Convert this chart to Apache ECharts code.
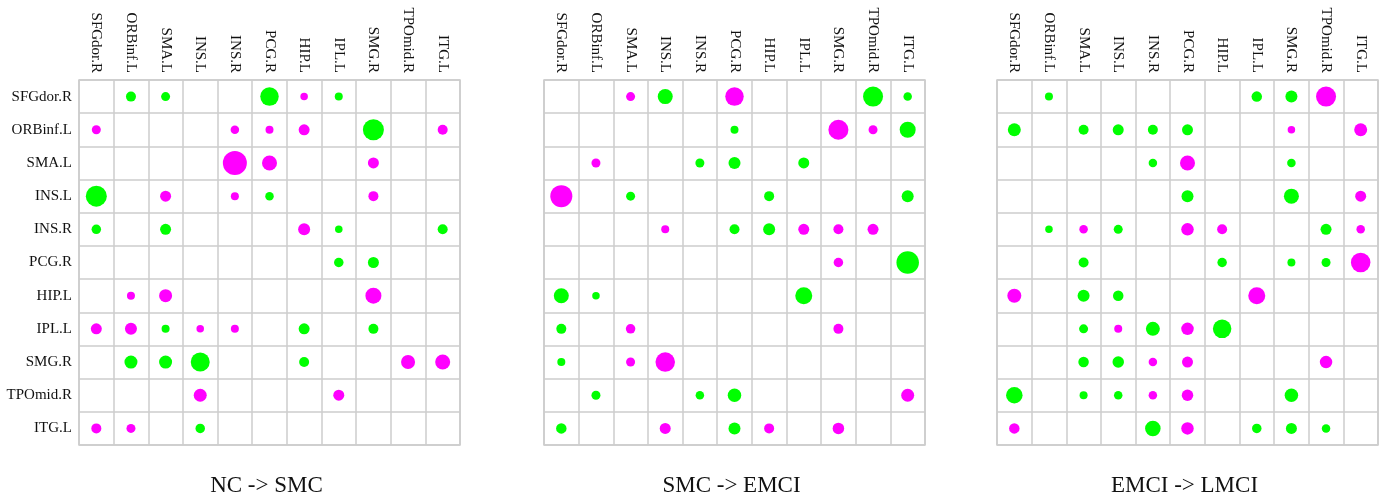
<!DOCTYPE html>
<html>
<head>
<meta charset="utf-8">
<script src="https://cdn.jsdelivr.net/npm/echarts@6/dist/echarts.min.js"></script>
<style>
html,body{margin:0;padding:0;background:#fff;}
#chart{width:1382px;height:496px;}
</style>
</head>
<body>
<div id="chart"></div>
<script>
// Regions (same order for rows and columns)
const regions = ['SFGdor.R','ORBinf.L','SMA.L','INS.L','INS.R','PCG.R','HIP.L','IPL.L','SMG.R','TPOmid.R','ITG.L'];
const panelTitles = ['NC -> SMC','SMC -> EMCI','EMCI -> LMCI'];

// Effect magnitudes (positive = green, negative = magenta, 0 = none); rows = source, cols = target
const ncSmc = [
  [0,10,9,0,0,18.5,-7.5,8,0,0,0],
  [-9,0,0,0,-8.5,-8,-11,0,21,0,-10],
  [0,0,0,0,-24,-15,0,0,-11,0,0],
  [21,0,-11,0,-8,8.5,0,0,-10,0,0],
  [9.5,0,11,0,0,0,-12,7.5,0,0,10],
  [0,0,0,0,0,0,0,9.5,11,0,0],
  [0,-8,-13,0,0,0,0,0,-16,0,0],
  [-11,-12,8,-7.5,-8,0,11,0,10,0,0],
  [0,13,13,19,0,0,10,0,0,-14,-15],
  [0,0,0,-13,0,0,0,-11,0,0,0],
  [-10,-9,0,9.5,0,0,0,0,0,0,0]
];
const smcEmci = [
  [0,0,-9,15,0,-18.5,0,0,0,20,8.5],
  [0,0,0,0,0,8,0,0,-20,-9,16],
  [0,-9,0,0,9,12,0,11,0,0,0],
  [-22,0,9,0,0,0,10,0,0,0,12],
  [0,0,0,-8,0,10,12,-11,-10,-11,0],
  [0,0,0,0,0,0,0,0,-9.5,0,22.5],
  [15,7.5,0,0,0,0,0,17,0,0,0],
  [10,0,-9.5,0,0,0,0,0,-10,0,0],
  [8,0,-9,-19.5,0,0,0,0,0,0,0],
  [0,9,0,0,8.5,13.5,0,0,0,0,-13],
  [10.5,0,0,-11,0,12,-10,0,-11.5,0,0]
];
const emciLmci = [
  [0,8,0,0,0,0,0,10.5,12,-20,0],
  [13,0,10,11,10,11,0,0,-7.5,0,-13],
  [0,0,0,0,8.5,-15,0,0,8.5,0,0],
  [0,0,0,0,0,12,0,0,15,0,-11],
  [0,7.5,-8.5,9,0,-12.5,-10,0,0,11,-8.5],
  [0,0,10,0,0,0,9.5,0,8,9,-19.5],
  [-14,0,12,10.5,0,0,0,-17,0,0,0],
  [0,0,9,-8,14,-12.5,18.5,0,0,0,0],
  [0,0,10.5,11.5,-8.5,-11,0,0,0,-12.5,0],
  [16.5,0,8,8.5,-8.5,-11.5,0,0,13.5,0,0],
  [-10.5,0,0,0,15.5,-12.5,0,9.5,11,8.5,0]
];
const panels = [ncSmc, smcEmci, emciLmci];

const POS = '#00ff00', NEG = '#ff00ff';
const FONT = '"Liberation Serif", "Times New Roman", serif';
const gridLefts = [79, 544, 997];
const GW = 381, GH = 365, GT = 80;

const grids = [], xAxes = [], yAxes = [], series = [], titles = [];
panels.forEach((mat, p) => {
  grids.push({left: gridLefts[p], top: GT, width: GW, height: GH, show: true,
    borderColor: '#cccccc', borderWidth: 1.5, backgroundColor: 'transparent', containLabel: false});
  xAxes.push({type: 'category', gridIndex: p, data: regions, position: 'top',
    axisLine: {show: false}, axisTick: {show: false},
    axisLabel: {rotate: 90, interval: 0, margin: 7, color: '#111', fontFamily: FONT, fontSize: 15},
    splitLine: {show: true, interval: 0, lineStyle: {color: '#cccccc', width: 1.5}}});
  yAxes.push({type: 'category', gridIndex: p, data: regions, inverse: true,
    axisLine: {show: false}, axisTick: {show: false},
    axisLabel: {show: p === 0, interval: 0, margin: 7, color: '#111', fontFamily: FONT, fontSize: 15},
    splitLine: {show: true, interval: 0, lineStyle: {color: '#cccccc', width: 1.5}}});
  const pts = [];
  mat.forEach((row, r) => row.forEach((v, c) => { if (v !== 0) pts.push([c, r, v]); }));
  series.push({type: 'scatter', xAxisIndex: p, yAxisIndex: p, data: pts,
    symbolSize: d => Math.abs(d[2]),
    itemStyle: {color: params => params.data[2] > 0 ? POS : NEG, opacity: 1},
    emphasis: {disabled: true}});
  titles.push({text: panelTitles[p], left: gridLefts[p] + GW / 2 - 8, top: 469, textAlign: 'center',
    textStyle: {fontFamily: FONT, fontSize: 23, fontWeight: 'normal', color: '#111'}});
});

const chart = echarts.init(document.getElementById('chart'), null, {renderer: 'canvas'});
chart.setOption({
  animation: false,
  backgroundColor: '#fff',
  title: titles,
  grid: grids,
  xAxis: xAxes,
  yAxis: yAxes,
  series: series
});
</script>
</body>
</html>
